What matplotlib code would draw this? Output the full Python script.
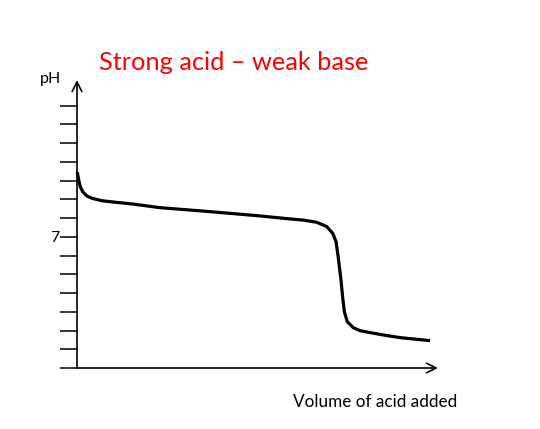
import matplotlib
matplotlib.use("Agg")
import matplotlib.pyplot as plt
import numpy as np

plt.rcParams['font.family'] = ['Lato', 'DejaVu Sans']

title = "Strong acid – weak base"
xlabel = "Volume of acid added"
ylabel = "pH"
ytick_values = list(range(15))
ytick_labels = ["" if v != 7 else "7" for v in ytick_values]

volume = [0.03, 0.16, 0.31, 0.54, 0.95, 1.43, 2.38, 3.64, 5.23, 7.89, 12.64, 17.40,
          20.25, 21.51, 22.79, 23.74, 24.31, 24.62, 24.84, 25.07, 25.26, 25.41,
          25.69, 26.26, 26.90, 27.54, 29.12, 30.70, 32.29, 33.56]
ph = [10.45, 10.03, 9.67, 9.40, 9.17, 9.05, 8.92, 8.84, 8.75, 8.55, 8.34, 8.11,
      7.95, 7.89, 7.77, 7.54, 7.18, 6.74, 5.85, 4.78, 3.72, 3.00,
      2.47, 2.15, 1.99, 1.92, 1.76, 1.62, 1.53, 1.46]

XMAX = 34.31
YMAX = 15.36

fig = plt.figure(figsize=(5.4, 4.29), dpi=100)
ax = fig.add_axes([77/540, (429-368)/429, (438-77)/540, (368-80)/429])
ax.set_xlim(0, XMAX)
ax.set_ylim(0, YMAX)
ax.set_facecolor('none')
for s in ax.spines.values():
    s.set_visible(False)

ax.plot(volume, ph, color='black', lw=2.3, solid_capstyle='butt', solid_joinstyle='round',
        clip_on=False)

ax.annotate('', xy=(XMAX, 0), xytext=(0, 0),
            arrowprops=dict(arrowstyle='->,head_length=0.7,head_width=0.35', lw=1.2, color='black',
                            shrinkA=0, shrinkB=0), annotation_clip=False)
ax.annotate('', xy=(0, YMAX), xytext=(0, 0),
            arrowprops=dict(arrowstyle='->,head_length=0.7,head_width=0.35', lw=1.2, color='black',
                            shrinkA=0, shrinkB=0), annotation_clip=False)

ax.set_yticks(ytick_values)
ax.set_yticklabels(ytick_labels, fontsize=11.5)
ax.tick_params(axis='y', direction='out', length=12.5, width=1.1, pad=0, colors='black')
ax.set_xticks([])

fig.text(40/540, 1 - 79/429, ylabel, fontsize=11.5, ha='left', va='center')
fig.text(99/540, 1 - 62/429, title, fontsize=18.3, color='#ff0000', ha='left', va='center')
fig.text(293/540, 1 - 402/429, xlabel, fontsize=12.3, ha='left', va='center')

fig.savefig('out.png', dpi=100)
